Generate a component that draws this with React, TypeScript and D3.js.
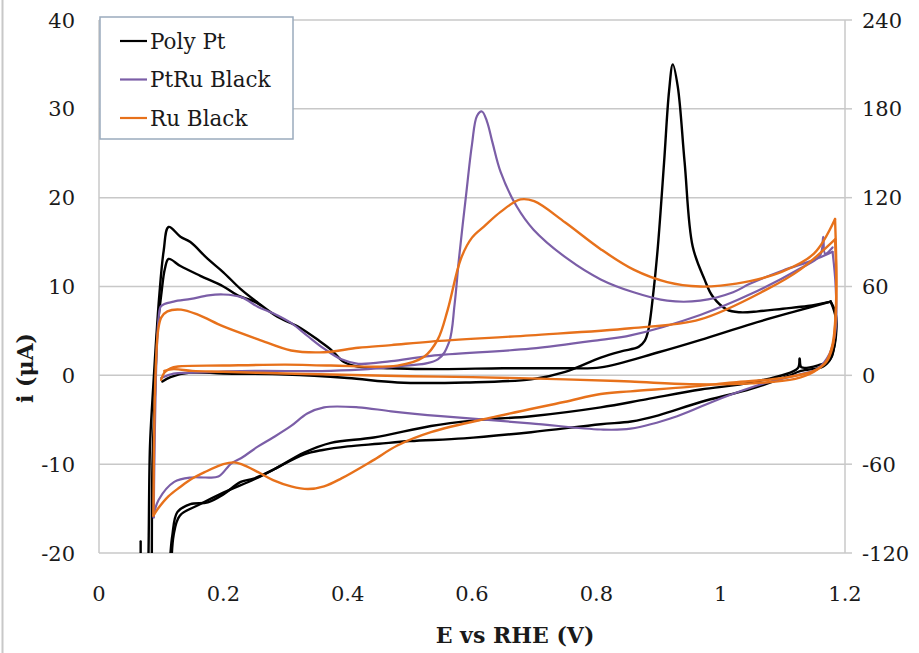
import React from 'react';
import * as d3 from 'd3';

// ---- axis ticks ----
const xTicks = [0, 0.2, 0.4, 0.6, 0.8, 1, 1.2];
const xTickLabels = ['0', '0.2', '0.4', '0.6', '0.8', '1', '1.2'];
const yTicks = [40, 30, 20, 10, 0, -10, -20];
const y2Ticks = [240, 180, 120, 60, 0, -60, -120];

const seriesNames = ['Poly Pt', 'PtRu Black', 'Ru Black'];
const seriesColors = ['#000000', '#7b5ea7', '#e7711b'];

// ---- Poly Pt (E in V, i in µA) ----
const polyPtScan1 = [[0.102,-0.7],[0.115,-0.2],[0.147,0.3],[0.2,0.2],[0.3,0.1],[0.4,-0.3],[0.48,-0.8],[0.59,-0.8],[0.695,-0.45],[0.75,0.4],[0.807,2.0],[0.84,2.7],[0.868,3.2],[0.878,3.9],[0.884,5.2],[0.892,9.5],[0.899,14.5],[0.909,24],[0.917,32],[0.923,35],[0.931,32.5],[0.942,24],[0.955,14.5],[0.974,10.8],[0.987,8.9],[1.01,7.4],[1.031,7.1],[1.06,7.2],[1.1,7.5],[1.14,7.8],[1.177,8.3]];
const polyPtScan2 = [[1.177,8.3],[1.185,7.0],[1.186,5.0],[1.182,3.0],[1.174,1.6],[1.16,1.2],[1.13,0.9],[1.127,1.9],[1.124,0.8],[1.05,-0.8],[0.968,-1.6],[0.88,-2.7],[0.807,-3.6],[0.695,-4.6],[0.6,-5.1],[0.534,-5.7],[0.442,-7.0],[0.373,-7.6],[0.33,-8.7],[0.281,-10.6],[0.25,-11.6],[0.228,-12.0],[0.2,-13.4],[0.175,-14.3],[0.147,-14.5],[0.126,-15.4],[0.118,-18],[0.115,-20],[0.112,-24]];
const polyPtScan3 = [[0.079,-24],[0.08,-18],[0.082,-8],[0.086,-2.7],[0.091,3],[0.097,9],[0.104,14],[0.112,16.7],[0.131,15.6],[0.147,15.0],[0.175,13.1],[0.2,11.6],[0.228,9.7],[0.255,8.2],[0.287,6.6],[0.32,5.5],[0.352,4.0],[0.373,2.9],[0.394,1.5],[0.416,1.0],[0.47,0.8],[0.55,0.7],[0.65,0.8],[0.75,0.8],[0.807,0.9],[0.9,2.6],[0.968,4.0],[1.05,5.8],[1.12,7.2],[1.177,8.3]];
const polyPtScan4 = [[1.177,8.3],[1.185,6.5],[1.184,4.0],[1.178,2.0],[1.165,1.0],[1.129,0.5],[1.108,-0.1],[1.05,-1.5],[0.968,-3.0],[0.9,-4.5],[0.856,-5.2],[0.807,-5.5],[0.695,-6.4],[0.587,-7.1],[0.5,-7.4],[0.45,-7.7],[0.4,-8.0],[0.36,-8.4],[0.33,-8.9],[0.281,-10.6],[0.25,-11.7],[0.2,-13.2],[0.16,-14.6],[0.13,-15.8],[0.12,-18],[0.116,-24]];
const polyPtScan5 = [[0.085,-24],[0.086,-10],[0.09,-2],[0.094,5.2],[0.1,9],[0.106,12],[0.112,13.1],[0.131,12.3],[0.163,11.2],[0.2,10.0],[0.223,9.0],[0.25,8.3],[0.26,7.9]];
const polyPtSpike = [[0.067,-21],[0.067,-18.7]];

// ---- PtRu Black ----
const ptRuScan1 = [[0.1,-0.3],[0.12,0.2],[0.15,0.3],[0.25,0.5],[0.373,0.5],[0.48,1.0],[0.545,1.8],[0.563,3.7],[0.572,8],[0.579,13.1],[0.59,20],[0.6,26],[0.608,29.2],[0.616,29.7],[0.624,28.6],[0.633,26.2],[0.646,22.9],[0.672,19.0],[0.699,16.4],[0.754,13.1],[0.807,10.8],[0.86,9.35],[0.914,8.4],[0.967,8.4],[1.02,9.35],[1.047,10.3],[1.1,11.8],[1.15,13.0],[1.18,13.9]];
const ptRuScan2 = [[1.18,13.9],[1.185,10],[1.185,5.2],[1.175,2.4],[1.155,0.7],[1.139,0.3],[1.075,-0.8],[1.0,-2.6],[0.93,-4.6],[0.855,-6.0],[0.807,-6.1],[0.694,-5.4],[0.55,-4.6],[0.47,-4.05],[0.417,-3.6],[0.362,-3.6],[0.335,-4.3],[0.309,-5.7],[0.28,-7.0],[0.256,-8.0],[0.229,-9.3],[0.213,-9.9],[0.192,-11.4],[0.17,-11.5],[0.148,-11.5],[0.121,-12.0],[0.096,-14.0],[0.089,-15.4],[0.088,-16.0]];
const ptRuScan3 = [[0.088,-16.0],[0.089,-10],[0.091,-2],[0.093,3],[0.096,6.5],[0.1,7.8],[0.12,8.3],[0.148,8.6],[0.176,9.0],[0.2,9.1],[0.229,8.8],[0.256,7.7],[0.28,7.0],[0.309,5.9],[0.336,4.4],[0.362,3.0],[0.39,1.8],[0.417,1.3],[0.47,1.6],[0.534,2.2],[0.694,3.0],[0.807,4.0],[0.855,4.5],[0.967,6.8],[1.05,9.2],[1.127,12.0],[1.16,13.5],[1.165,15.6],[1.168,13.7],[1.18,14.4]];

// ---- Ru Black ----
const ruScan1 = [[0.1,-0.5],[0.105,0.3],[0.115,0.8],[0.127,1.0],[0.2,1.1],[0.3,1.2],[0.373,1.1],[0.48,1.1],[0.523,2.1],[0.545,4.05],[0.561,7.4],[0.582,13.1],[0.6,15.5],[0.62,16.8],[0.646,18.4],[0.678,19.8],[0.7,19.6],[0.75,17.2],[0.807,14.2],[0.86,11.9],[0.914,10.5],[0.967,10.0],[1.0,10.1],[1.047,10.6],[1.1,11.7],[1.15,13.7],[1.184,17.6]];
const ruScan2 = [[1.184,17.6],[1.186,12],[1.185,7],[1.18,3.5],[1.17,1.6],[1.15,0.4],[1.12,-0.4],[1.05,-0.9],[0.95,-1.0],[0.855,-0.7],[0.75,-0.45],[0.6,-0.2],[0.5,-0.1],[0.373,0.1],[0.3,0.2],[0.2,0.4],[0.15,0.5],[0.12,0.7],[0.105,0.5]];
const ruScan3 = [[1.184,15.3],[1.186,11],[1.185,6.5],[1.18,3.2],[1.17,1.5],[1.15,0.5],[1.1,-0.3],[1.02,-0.8],[0.95,-1.3],[0.855,-1.8],[0.807,-2.1],[0.748,-3.0],[0.641,-4.6],[0.534,-6.4],[0.48,-7.9],[0.44,-9.6],[0.39,-11.6],[0.362,-12.5],[0.336,-12.8],[0.309,-12.5],[0.28,-11.8],[0.256,-10.9],[0.229,-10.0],[0.217,-9.8],[0.2,-10.0],[0.17,-10.9],[0.148,-11.7],[0.13,-12.6],[0.112,-13.6],[0.095,-15.0],[0.0875,-15.8]];
const ruScan4 = [[0.0875,-15.8],[0.089,-5],[0.092,2],[0.095,5],[0.1,6.5],[0.11,7.2],[0.132,7.4],[0.16,6.8],[0.2,5.5],[0.256,4.05],[0.309,2.8],[0.362,2.6],[0.417,3.1],[0.47,3.4],[0.534,3.8],[0.694,4.5],[0.855,5.3],[0.967,6.3],[1.075,9.7],[1.128,11.9],[1.184,15.3]];

const polyPtScans = [polyPtScan1, polyPtScan2, polyPtScan3, polyPtScan4, polyPtScan5, polyPtSpike];
const ptRuScans = [ptRuScan1, ptRuScan2, ptRuScan3];
const ruScans = [ruScan1, ruScan2, ruScan3, ruScan4];

const FONT = 'DejaVu Serif';

export default function App() {
  const W = 919, H = 653;
  const L = 99, R = 845, T = 20, B = 553;
  const x = d3.scaleLinear().domain([0, 1.2]).range([L, R]);
  const y = d3.scaleLinear().domain([-20, 40]).range([B, T]);
  const y2 = d3.scaleLinear().domain([-120, 240]).range([B, T]);
  const line = d3.line<number[]>().x(d => x(d[0])).y(d => y(d[1])).curve(d3.curveCatmullRom.alpha(0.5));
  const grid = '#c8c8c8';
  const ink = '#1a1a1a';
  const groups = [
    { scans: polyPtScans, color: seriesColors[0], w: 2.4 },
    { scans: ptRuScans, color: seriesColors[1], w: 2.2 },
    { scans: ruScans, color: seriesColors[2], w: 2.4 },
  ];
  return (
    <svg width={W} height={H} style={{ position: 'absolute', left: 0, top: 0, background: '#fff' }} fontFamily={FONT}>
      <defs>
        <clipPath id="plotclip"><rect x={L} y={T} width={R - L} height={B - T} /></clipPath>
      </defs>
      <rect x={0} y={0} width={W} height={H} fill="#fff" />
      <line x1={2.5} x2={2.5} y1={0} y2={H} stroke="#c8c8c8" strokeWidth={2} />
      {yTicks.map(t => (
        <line key={'g' + t} x1={L} x2={R} y1={y(t)} y2={y(t)} stroke={grid} strokeWidth={1.5} />
      ))}
      <line x1={L} x2={L} y1={T} y2={B} stroke={grid} strokeWidth={1.5} />
      <line x1={R} x2={R} y1={T} y2={B} stroke={grid} strokeWidth={1.5} />
      {y2Ticks.map(t => (
        <line key={'t' + t} x1={R} x2={R + 7} y1={y2(t)} y2={y2(t)} stroke={grid} strokeWidth={1.5} />
      ))}
      {yTicks.map(t => (
        <text key={'yl' + t} x={75} y={y(t)} dy="0.36em" textAnchor="end" fontSize={21} fill={ink}>{t}</text>
      ))}
      {y2Ticks.map(t => (
        <text key={'y2l' + t} x={862} y={y2(t)} dy="0.36em" textAnchor="start" fontSize={21} fill={ink}>{t}</text>
      ))}
      {xTicks.map((t, i) => (
        <text key={'xl' + t} x={x(t)} y={601} textAnchor="middle" fontSize={21} fill={ink}>{xTickLabels[i]}</text>
      ))}
      <text x={515} y={643} textAnchor="middle" fontSize={22} fontWeight="bold" fill={ink}>E vs RHE (V)</text>
      <text transform="translate(33,368) rotate(-90)" textAnchor="middle" fontSize={22} fontWeight="bold" fill={ink}>i (μA)</text>
      <g clipPath="url(#plotclip)">
        {groups.map((g, gi) => g.scans.map((s, si) => (
          <path key={gi + '-' + si} d={line(s) || ''} fill="none" stroke={g.color} strokeWidth={g.w} strokeLinejoin="round" strokeLinecap="round" />
        )))}
      </g>
      <rect x={100} y={17} width={193} height={122} fill="#fff" stroke="#9aabbd" strokeWidth={1.5} />
      {seriesNames.map((n, i) => (
        <g key={n}>
          <line x1={120} x2={147} y1={41 + i * 38.5} y2={41 + i * 38.5} stroke={seriesColors[i]} strokeWidth={2.2} />
          <text x={150} y={41 + i * 38.5} dy="0.36em" fontSize={21.5} fill={ink}>{n}</text>
        </g>
      ))}
    </svg>
  );
}
